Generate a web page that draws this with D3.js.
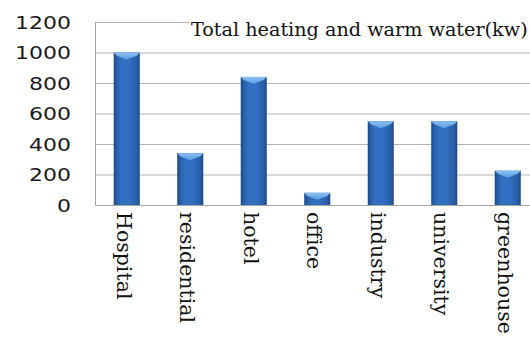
<!DOCTYPE html>
<html>
<head>
<meta charset="utf-8">
<script src="https://cdn.jsdelivr.net/npm/d3@7/dist/d3.min.js"></script>
<style>
  html, body { margin: 0; padding: 0; background: #fff; }
  svg { display: block; }
</style>
</head>
<body>
<svg id="chart" width="530" height="341"></svg>
<script>
// Heating + warm water demand by building type
const categories = ["Hospital", "residential", "hotel", "office", "industry", "university", "greenhouse"];
const values = [1000, 340, 840, 80, 550, 550, 225];
const yTicks = [0, 200, 400, 600, 800, 1000, 1200];
const title = "Total heating and warm water(kw)";

const svg = d3.select("#chart");
const W = 530, H = 341;
const plot = { left: 95, right: 539.5, top: 22, bottom: 205 };

const x = d3.scaleBand()
  .domain(categories)
  .range([plot.left, plot.right])
  .paddingInner(0.59)
  .paddingOuter(0.295);

const y = d3.scaleLinear()
  .domain([0, 1200])
  .range([plot.bottom, plot.top]);

// Gradients for the bevelled bars
const defs = svg.append("defs");
const body = defs.append("linearGradient").attr("id", "barBody")
  .attr("x1", "0").attr("x2", "1").attr("y1", "0").attr("y2", "0");
[[0, "#1b4782"], [0.12, "#2a60aa"], [0.3, "#3171c2"], [0.6, "#306ebf"], [0.88, "#295fa8"], [1, "#1c4782"]]
  .forEach(([o, c]) => body.append("stop").attr("offset", o).attr("stop-color", c));
const cap = defs.append("linearGradient").attr("id", "barCap")
  .attr("x1", "0").attr("x2", "0").attr("y1", "0").attr("y2", "1");
[[0, "#8cc0f2"], [1, "#5a9be2"]]
  .forEach(([o, c]) => cap.append("stop").attr("offset", o).attr("stop-color", c));

// Gridlines
svg.append("g")
  .selectAll("line")
  .data(yTicks.filter(d => d > 0))
  .join("line")
  .attr("x1", plot.left).attr("x2", W)
  .attr("y1", d => y(d) + 0.5).attr("y2", d => y(d) + 0.5)
  .attr("stroke", "#b4b4b4").attr("stroke-width", 1);

// Axis lines
svg.append("line")
  .attr("x1", plot.left + 0.5).attr("x2", plot.left + 0.5)
  .attr("y1", plot.top).attr("y2", plot.bottom + 1)
  .attr("stroke", "#a6a6a6");
svg.append("line")
  .attr("x1", plot.left).attr("x2", W)
  .attr("y1", plot.bottom + 0.5).attr("y2", plot.bottom + 0.5)
  .attr("stroke", "#a6a6a6");

// Y axis labels
const yAxis = d3.axisLeft(y).tickValues(yTicks).tickFormat(d3.format("d")).tickSize(0).tickPadding(0);
const yg = svg.append("g").attr("transform", "translate(71,0)").call(yAxis);
yg.select(".domain").remove();
yg.selectAll("text")
  .attr("font-family", "DejaVu Sans, Verdana, sans-serif")
  .attr("font-size", 18)
  .attr("fill", "#1a1a1a")
  .attr("dy", "0.36em")
  .attr("textLength", d => String(d).length * 14)
  .attr("lengthAdjust", "spacingAndGlyphs");

// Bars
const bars = svg.append("g");
categories.forEach((c, i) => {
  const x0 = x(c), bw = x.bandwidth(), top = y(values[i]);
  const hgt = y(0) - top;
  bars.append("rect")
    .attr("x", x0).attr("y", top)
    .attr("width", bw).attr("height", hgt)
    .attr("fill", "url(#barBody)");
  const capH = Math.min(7, hgt);
  bars.append("path")
    .attr("d", `M${x0},${top} L${x0 + bw},${top} L${x0 + bw - 3},${top + capH * 0.45} L${x0 + bw / 2},${top + capH} L${x0 + 3},${top + capH * 0.45} Z`)
    .attr("fill", "url(#barCap)");
});

// Category labels, rotated to read downward
const xAxis = d3.axisBottom(x).tickSize(0).tickPadding(0);
const xg = svg.append("g").attr("transform", `translate(0,${plot.bottom})`).call(xAxis);
xg.select(".domain").remove();
xg.selectAll("text")
  .attr("font-family", "DejaVu Serif, Liberation Serif, serif")
  .attr("font-size", 20.5)
  .attr("fill", "#111")
  .attr("text-anchor", "start")
  .attr("transform", "rotate(90)")
  .attr("x", 7)
  .attr("y", 0)
  .attr("dy", "0.5em");

// Title inside the plot area, on a white backing
svg.append("rect")
  .attr("x", 189).attr("y", 14).attr("width", W - 189).attr("height", 26)
  .attr("fill", "#fff");
svg.append("text")
  .attr("x", 191).attr("y", 36)
  .attr("font-family", "DejaVu Serif, Liberation Serif, serif")
  .attr("font-size", 19.2)
  .attr("fill", "#111")
  .text(title);
</script>
</body>
</html>
